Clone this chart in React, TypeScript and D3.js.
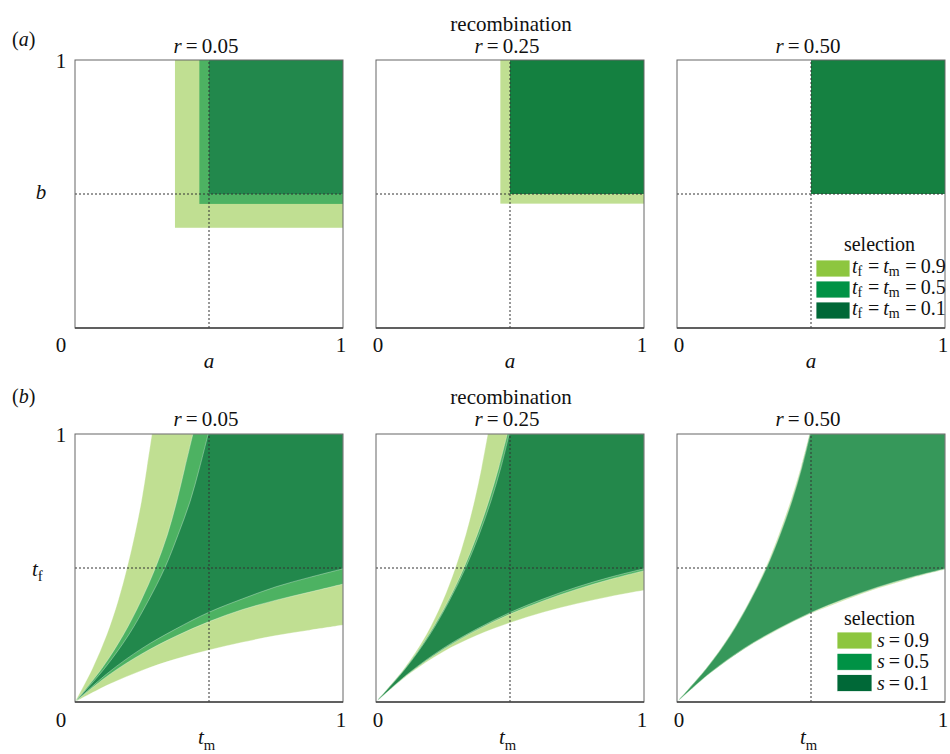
import React from "react";
import * as d3 from "d3";

// ---------- data ----------
const recombination = ["0.05", "0.25", "0.50"];
const selectionA = ["0.9", "0.5", "0.1"]; // t_f = t_m
const selectionB = ["0.9", "0.5", "0.1"]; // s

// panel (a): lower-left corners (a, b) of invasion regions, per recombination, per selection
const aLow_r005 = [0.373, 0.464, 0.5];
const bLow_r005 = [0.374, 0.463, 0.5];
const aLow_r025 = [0.464, 0.5, 0.5];
const bLow_r025 = [0.464, 0.5, 0.5];
const aLow_r050 = [0.5, 0.5, 0.5];
const bLow_r050 = [0.5, 0.5, 0.5];

// panel (b): lower boundary t_f(t_m); the upper boundary is its mirror image
const tmGrid = [0, 0.125, 0.25, 0.375, 0.5, 0.625, 0.75, 0.875, 1];
const low_r005_s09 = [0, 0.065, 0.118, 0.16, 0.194, 0.223, 0.248, 0.268, 0.287];
const low_r005_s05 = [0, 0.1, 0.18, 0.245, 0.3, 0.345, 0.38, 0.41, 0.44];
const low_r005_s01 = [0, 0.11, 0.2, 0.272, 0.335, 0.385, 0.43, 0.465, 0.497];
const low_r025_s09 = [0, 0.105, 0.187, 0.248, 0.296, 0.335, 0.367, 0.394, 0.417];
const low_r025_s05 = [0, 0.108, 0.196, 0.268, 0.328, 0.378, 0.421, 0.458, 0.49];
const low_r025_s01 = [0, 0.11, 0.2, 0.272, 0.334, 0.385, 0.429, 0.466, 0.497];
const low_r050_s09 = [0, 0.108, 0.197, 0.269, 0.33, 0.38, 0.424, 0.462, 0.494];
const low_r050_s05 = [0, 0.109, 0.199, 0.271, 0.333, 0.384, 0.428, 0.465, 0.496];
const low_r050_s01 = [0, 0.11, 0.2, 0.272, 0.334, 0.385, 0.429, 0.466, 0.497];

const rectsA = [
  [aLow_r005, bLow_r005],
  [aLow_r025, bLow_r025],
  [aLow_r050, bLow_r050],
];
const curvesB = [
  [low_r005_s09, low_r005_s05, low_r005_s01],
  [low_r025_s09, low_r025_s05, low_r025_s01],
  [low_r050_s09, low_r050_s05, low_r050_s01],
];

// ---------- styles ----------
const legendColors = ["#8dc63f", "#009245", "#006837"];
const fillA = [
  ["#c0df92", "#4db262", "#22884c"],
  ["#c0df92", "#4db262", "#148040"],
  ["#c0df92", "#4db262", "#158141"],
];
const fillB = [
  ["#c0df92", "#4db262", "#22884c"],
  ["#c0df92", "#4db262", "#23884b"],
  ["#c0df92", "#4db262", "#36985a"],
];

const FONT = '"Liberation Serif", "Times New Roman", Tinos, "DejaVu Serif", "Noto Serif", FreeSerif, Times, serif';
const panelX = [75, 376, 677];
const SIZE = 268;
const topY = 60;
const botY = 434;

function Frame({ x0, y0 }: { x0: number; y0: number }) {
  const xs = d3.scaleLinear().domain([0, 1]).range([x0, x0 + SIZE]);
  const ys = d3.scaleLinear().domain([0, 1]).range([y0 + SIZE, y0]);
  return (
    <g>
      <line x1={xs(0.5)} x2={xs(0.5)} y1={ys(0)} y2={ys(1)} stroke="#333" strokeWidth={1} strokeDasharray="2,2" />
      <line x1={xs(0)} x2={xs(1)} y1={ys(0.5)} y2={ys(0.5)} stroke="#333" strokeWidth={1} strokeDasharray="2,2" />
      <rect x={x0} y={y0} width={SIZE} height={SIZE} fill="none" stroke="#666" strokeWidth={1} />
      <line x1={x0} x2={x0 + SIZE} y1={y0 + SIZE} y2={y0 + SIZE} stroke="#444" strokeWidth={1.3} />
    </g>
  );
}

function PanelA({ i }: { i: number }) {
  const x0 = panelX[i];
  const xs = d3.scaleLinear().domain([0, 1]).range([x0, x0 + SIZE]);
  const ys = d3.scaleLinear().domain([0, 1]).range([topY + SIZE, topY]);
  const [aL, bL] = rectsA[i];
  return (
    <g>
      {aL.map((a, k) => (
        <rect key={k} x={xs(a)} y={ys(1)} width={xs(1) - xs(a)} height={ys(bL[k]) - ys(1)} fill={fillA[i][k]} />
      ))}
      <Frame x0={x0} y0={topY} />
    </g>
  );
}

function PanelB({ i }: { i: number }) {
  const x0 = panelX[i];
  const xs = d3.scaleLinear().domain([0, 1]).range([x0, x0 + SIZE]);
  const ys = d3.scaleLinear().domain([0, 1]).range([botY + SIZE, botY]);
  const line = d3
    .line<[number, number]>()
    .x((d) => xs(d[0]))
    .y((d) => ys(d[1]))
    .curve(d3.curveCatmullRom);
  return (
    <g>
      {curvesB[i].map((low, k) => {
        const lower: [number, number][] = tmGrid.map((t, j) => [t, low[j]]);
        const upper: [number, number][] = tmGrid.map((t, j) => [low[j], t]).reverse() as [number, number][];
        const p1 = line(lower) as string;
        const p2 = (line(upper) as string).replace(/^M/, "L");
        const d = p1 + `L${xs(1)},${ys(1)}` + p2 + "Z";
        return <path key={k} d={d} fill={fillB[i][k]} stroke="rgba(255,255,255,0.45)" strokeWidth={0.7} />;
      })}
      <Frame x0={x0} y0={botY} />
    </g>
  );
}

function Sub({ v, s, size, drop }: { v: string; s: string; size: number; drop: number }) {
  return (
    <>
      <tspan fontStyle="italic">{v}</tspan>
      <tspan fontSize={size * 0.7} dy={drop}>{s}</tspan>
      <tspan dy={-drop}>{"\u200A"}</tspan>
    </>
  );
}

export default function App() {
  const T = 21; // title/tick size
  const L = 20; // legend size
  return (
    <svg
      width={950}
      height={754}
      style={{ position: "absolute", left: 0, top: 0, background: "#fff", fontFamily: FONT }}
      fill="#111"
    >
      {/* row (a) */}
      <text x={12} y={46} fontSize={20}>(<tspan fontStyle="italic">a</tspan>)</text>
      <text x={panelX[1] + SIZE / 2 + 1} y={31} fontSize={T} textAnchor="middle">recombination</text>
      {recombination.map((r, i) => (
        <text key={"ta" + i} x={panelX[i] + SIZE / 2 - 3} y={53} fontSize={T} textAnchor="middle">
          <tspan fontStyle="italic">r</tspan>{"\u2009=\u2009"}{r}
        </text>
      ))}
      {[0, 1, 2].map((i) => <PanelA key={"pa" + i} i={i} />)}
      <text x={61} y={68} fontSize={T} textAnchor="middle">1</text>
      <text x={41} y={199} fontSize={T} textAnchor="middle" fontStyle="italic">b</text>
      {[0, 1, 2].map((i) => (
        <g key={"xa" + i} fontSize={T} textAnchor="middle">
          <text x={i === 0 ? 61 : panelX[i] + 2} y={352}>0</text>
          <text x={panelX[i] + SIZE - 2} y={352}>1</text>
          <text x={panelX[i] + SIZE / 2} y={368} fontStyle="italic">a</text>
        </g>
      ))}
      {/* legend (a) */}
      <text x={879.5} y={251} fontSize={L} textAnchor="middle">selection</text>
      {selectionA.map((s, k) => (
        <g key={"la" + k}>
          <rect x={816} y={260 + k * 21} width={34} height={17} fill={legendColors[k]} stroke="#fff" strokeWidth={0.8} />
          <text x={852} y={273 + k * 21} fontSize={L}>
            <Sub v="t" s="f" size={L} drop={3} />
            <tspan>{"\u2009=\u2009"}</tspan>
            <Sub v="t" s="m" size={L} drop={3} />
            <tspan>{"\u2009=\u2009"}{s}</tspan>
          </text>
        </g>
      ))}

      {/* row (b) */}
      <text x={12} y={403} fontSize={20}>(<tspan fontStyle="italic">b</tspan>)</text>
      <text x={panelX[1] + SIZE / 2 + 1} y={404} fontSize={T} textAnchor="middle">recombination</text>
      {recombination.map((r, i) => (
        <text key={"tb" + i} x={panelX[i] + SIZE / 2 - 3} y={426} fontSize={T} textAnchor="middle">
          <tspan fontStyle="italic">r</tspan>{"\u2009=\u2009"}{r}
        </text>
      ))}
      {[0, 1, 2].map((i) => <PanelB key={"pb" + i} i={i} />)}
      <text x={61} y={442} fontSize={T} textAnchor="middle">1</text>
      <text x={32} y={576} fontSize={T}>
        <Sub v="t" s="f" size={T} drop={5} />
      </text>
      {[0, 1, 2].map((i) => (
        <g key={"xb" + i} fontSize={T}>
          <text x={i === 0 ? 61 : panelX[i] + 2} y={727} textAnchor="middle">0</text>
          <text x={panelX[i] + SIZE - 2} y={727} textAnchor="middle">1</text>
          <text x={panelX[i] + SIZE / 2 - 11} y={744}>
            <Sub v="t" s="m" size={T} drop={6} />
          </text>
        </g>
      ))}
      {/* legend (b) */}
      <text x={879.5} y={625} fontSize={L} textAnchor="middle">selection</text>
      {selectionB.map((s, k) => (
        <g key={"lb" + k}>
          <rect x={837} y={632 + k * 21.3} width={35} height={17} fill={legendColors[k]} stroke="#fff" strokeWidth={0.8} />
          <text x={877} y={647 + k * 21.3} fontSize={L}>
            <tspan fontStyle="italic">s</tspan>{"\u2009=\u2009"}{s}
          </text>
        </g>
      ))}
    </svg>
  );
}
